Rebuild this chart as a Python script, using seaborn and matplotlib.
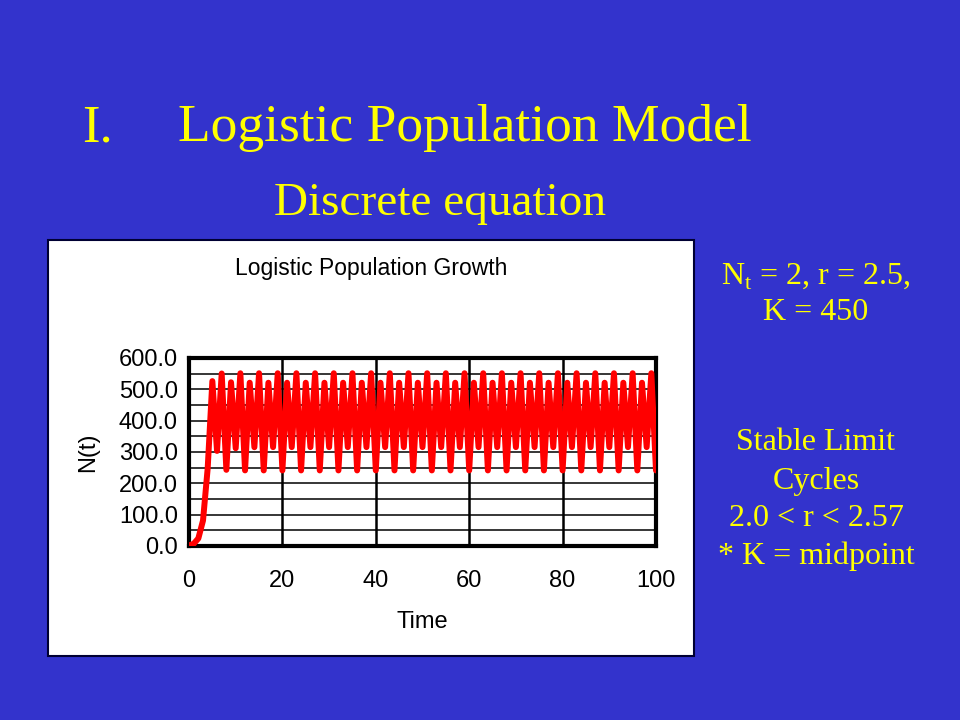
import numpy as np
import pandas as pd
import matplotlib.pyplot as plt
from matplotlib.patches import Rectangle
import seaborn as sns

# Population values (one per time step, 0..100)
time_steps = list(range(0, 101))
population = [
    2.0, 7.0, 24.2, 81.3,
    247.8, 526.2, 303.4, 550.5,
    243.1, 522.5, 312.1, 551.2,
    241.3, 521.1, 315.3, 551.3,
    241.2, 521.0, 315.6, 551.3,
    241.2, 521.0, 315.6, 551.3,
    241.2, 521.0, 315.6, 551.3,
    241.2, 521.0, 315.6, 551.3,
    241.2, 521.0, 315.6, 551.3,
    241.2, 521.0, 315.6, 551.3,
    241.2, 521.0, 315.6, 551.3,
    241.2, 521.0, 315.6, 551.3,
    241.2, 521.0, 315.6, 551.3,
    241.2, 521.0, 315.6, 551.3,
    241.2, 521.0, 315.6, 551.3,
    241.2, 521.0, 315.6, 551.3,
    241.2, 521.0, 315.6, 551.3,
    241.2, 521.0, 315.6, 551.3,
    241.2, 521.0, 315.6, 551.3,
    241.2, 521.0, 315.6, 551.3,
    241.2, 521.0, 315.6, 551.3,
    241.2, 521.0, 315.6, 551.3,
    241.2, 521.0, 315.6, 551.3,
    241.2, 521.0, 315.6, 551.3,
    241.2, 521.0, 315.6, 551.3,
    241.2,
]
y_ticks = [0, 100, 200, 300, 400, 500, 600]
x_ticks = [0, 20, 40, 60, 80, 100]

df = pd.DataFrame({'Time': time_steps, 'N': population})

sns.set_style('white')
plt.rcParams['font.family'] = ['Liberation Sans', 'DejaVu Sans']
plt.rcParams['mathtext.fontset'] = 'custom'
plt.rcParams['mathtext.rm'] = 'Liberation Serif'

W, H = 960, 720
fig = plt.figure(figsize=(9.6, 7.2), dpi=100)
fig.patch.set_facecolor('#3333CC')

# white chart box
fig.patches.append(Rectangle((48 / W, 1 - 656 / H), (694 - 48) / W, (656 - 240) / H,
                             transform=fig.transFigure, facecolor='white',
                             edgecolor='#000033', linewidth=1.5, zorder=-1))

ax = fig.add_axes([189 / W, 1 - 546 / H, (656 - 189) / W, (546 - 358) / H])
ax.set_zorder(2)
ax.set_facecolor('white')

# gridlines every 50 on y, every 20 on x
for yv in range(50, 600, 50):
    ax.axhline(yv, color='black', linewidth=1.1, zorder=1)
for xv in x_ticks[1:-1]:
    ax.axvline(xv, color='black', linewidth=1.8, zorder=1)

sns.lineplot(data=df, x='Time', y='N', color='#FF0000', linewidth=4.3, ax=ax, zorder=3,
             solid_joinstyle='round')

ax.set_xlim(0, 100)
ax.set_ylim(0, 600)
ax.set_xticks(x_ticks)
ax.set_yticks(y_ticks)
ax.set_yticklabels([f'{v:.1f}' for v in y_ticks])
ax.tick_params(axis='both', direction='out', length=5, width=1.2, color='black',
               labelsize=17, labelcolor='black')
ax.tick_params(axis='x', pad=12)
ax.tick_params(axis='y', pad=3)
for sp in ax.spines.values():
    sp.set_visible(True)
    sp.set_color('black')
    sp.set_linewidth(3)
ax.set_xlabel('Time', fontsize=17, labelpad=14, color='black')
ax.set_ylabel('N(t)', fontsize=17, labelpad=14, color='black')

fig.text(371 / W, 1 - 268 / H, 'Logistic Population Growth', fontsize=16.5,
         ha='center', va='center', color='black')

# slide titles
serif = ['Liberation Serif', 'DejaVu Serif']
yellow = '#FFFF00'
fig.text(82 / W, 1 - 128 / H, 'I.', fontsize=38, family=serif, color=yellow,
         ha='left', va='center')
fig.text(178 / W, 1 - 128 / H, 'Logistic Population Model', fontsize=38.5, family=serif,
         color=yellow, ha='left', va='center')
fig.text(440 / W, 1 - 204 / H, 'Discrete equation', fontsize=34, family=serif,
         color=yellow, ha='center', va='center')

side_lines = [
    (276, r'N$_\mathrm{t}$ = 2, r = 2.5,'),
    (313, 'K = 450'),
    (442, 'Stable Limit'),
    (481, 'Cycles'),
    (519, '2.0 < r < 2.57'),
    (556, '* K = midpoint'),
]
for yp, txt in side_lines:
    fig.text(816 / W, 1 - yp / H, txt, fontsize=23, family=serif, color=yellow,
             ha='center', va='center')

fig.savefig('out.png', dpi=100, facecolor=fig.get_facecolor())
plt.close(fig)
